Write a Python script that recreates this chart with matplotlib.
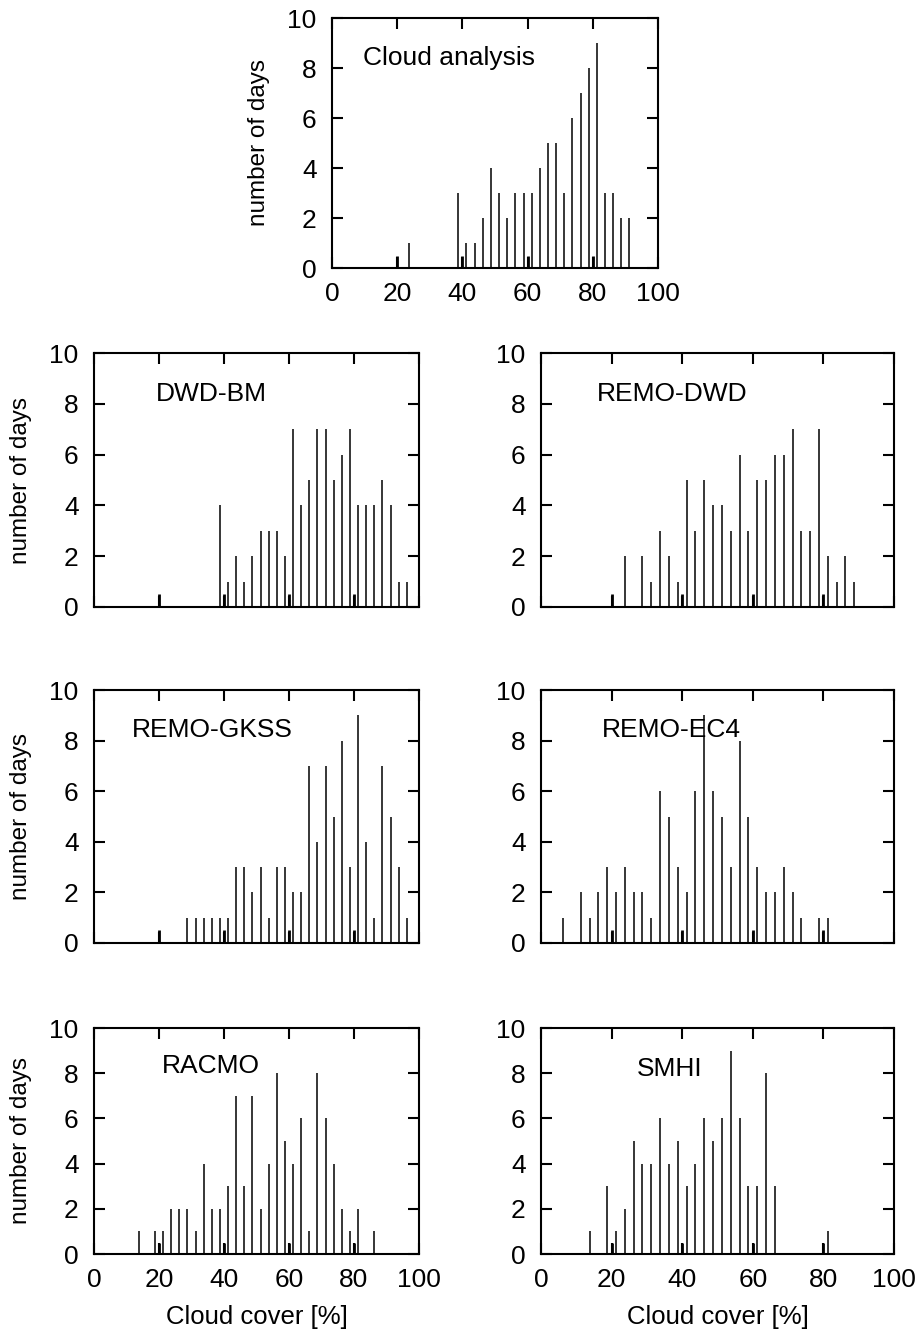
import matplotlib
matplotlib.use("Agg")
import matplotlib.pyplot as plt

plt.rcParams["font.family"] = ["Liberation Sans", "DejaVu Sans"]

# bin centres (cloud cover %) and number of days
analysis_x = [23.75, 38.75, 41.25, 43.75, 46.25, 48.75, 51.25, 53.75, 56.25, 58.75, 61.25,
              63.75, 66.25, 68.75, 71.25, 73.75, 76.25, 78.75, 81.25, 83.75, 86.25, 88.75, 91.25]
analysis_n = [1, 3, 1, 1, 2, 4, 3, 2, 3, 3, 3, 4, 5, 5, 3, 6, 7, 8, 9, 3, 3, 2, 2]

dwdbm_x = [38.75 + 2.5 * k for k in range(24)]
dwdbm_n = [4, 1, 2, 1, 2, 3, 3, 3, 2, 7, 4, 5, 7, 7, 5, 6, 7, 4, 4, 4, 5, 4, 1, 1]

remodwd_x = [23.75] + [28.75 + 2.5 * k for k in range(25)]
remodwd_n = [2, 2, 1, 3, 2, 1, 5, 3, 5, 4, 4, 3, 6, 3, 5, 5, 6, 6, 7, 3, 3, 7, 2, 1, 2, 1]

remogkss_x = [28.75 + 2.5 * k for k in range(28)]
remogkss_n = [1, 1, 1, 1, 1, 1, 3, 3, 2, 3, 1, 3, 3, 2, 2, 7, 4, 7, 5, 8, 3, 9, 4, 1, 7, 5, 3, 1]

remoec4_x = [6.25] + [11.25 + 2.5 * k for k in range(26)] + [78.75, 81.25]
remoec4_n = [1, 2, 1, 2, 3, 2, 3, 2, 2, 1, 6, 5, 3, 2, 6, 9, 6, 5, 3, 8, 5, 3, 2, 2, 3, 2, 1, 1, 1]

racmo_x = [13.75] + [18.75 + 2.5 * k for k in range(26)] + [86.25]
racmo_n = [1, 1, 1, 2, 2, 2, 1, 4, 2, 2, 3, 7, 3, 7, 2, 4, 8, 5, 4, 6, 1, 8, 6, 4, 2, 1, 2, 1]

smhi_x = [13.75] + [18.75 + 2.5 * k for k in range(20)] + [81.25]
smhi_n = [1, 3, 1, 2, 5, 4, 4, 6, 4, 5, 3, 4, 6, 5, 6, 9, 6, 3, 3, 8, 3, 1]

# small reference marks drawn at every 20 %
mark_x = [20, 40, 60, 80]
mark_n = [0.5, 0.5, 0.5, 0.5]

W, H = 915, 1336
fig = plt.figure(figsize=(W / 100, H / 100), dpi=100)


def rect(left, top, right, bottom):
    return [left / W, 1 - bottom / H, (right - left) / W, (bottom - top) / H]


panels = [
    ("Cloud analysis", analysis_x, analysis_n, rect(332, 18, 658, 268), True, True, (0.095, 0.84)),
    ("DWD-BM", dwdbm_x, dwdbm_n, rect(94, 353, 419, 607), False, True, (0.19, 0.84)),
    ("REMO-DWD", remodwd_x, remodwd_n, rect(541, 353, 894, 607), False, False, (0.158, 0.84)),
    ("REMO-GKSS", remogkss_x, remogkss_n, rect(94, 690, 419, 943), False, True, (0.116, 0.84)),
    ("REMO-EC4", remoec4_x, remoec4_n, rect(541, 690, 894, 943), False, False, (0.172, 0.84)),
    ("RACMO", racmo_x, racmo_n, rect(94, 1028, 419, 1254), True, True, (0.208, 0.83)),
    ("SMHI", smhi_x, smhi_n, rect(541, 1028, 894, 1254), True, False, (0.272, 0.82)),
]

for name, xs, ns, pos, xlab, ylab, tpos in panels:
    ax = fig.add_axes(pos)
    ax.vlines(xs, 0, ns, colors="black", linewidth=1.1)
    ax.vlines(mark_x, 0, mark_n, colors="black", linewidth=2.0)
    ax.set_xlim(0, 100)
    ax.set_ylim(0, 10)
    ax.set_xticks(range(0, 101, 20))
    ax.set_yticks(range(0, 11, 2))
    ax.tick_params(direction="in", length=8, width=1.5, top=True, right=True,
                   labelsize=19)
    ax.tick_params(axis="x", pad=10)
    ax.tick_params(axis="y", pad=11)
    if not xlab:
        ax.tick_params(labelbottom=False)
    for s in ax.spines.values():
        s.set_linewidth(1.5)
    if ylab:
        ax.set_ylabel("number of days", fontsize=17.5)
        ax.yaxis.set_label_coords(-0.19, 0.5)
    if xlab and name != "Cloud analysis":
        ax.set_xlabel("Cloud cover [%]", fontsize=18.5)
        ax.xaxis.set_label_coords(0.5, -0.225)
    ax.text(tpos[0], tpos[1], name, transform=ax.transAxes, fontsize=19,
            ha="left", va="center")

fig.savefig("out.png", dpi=100)
